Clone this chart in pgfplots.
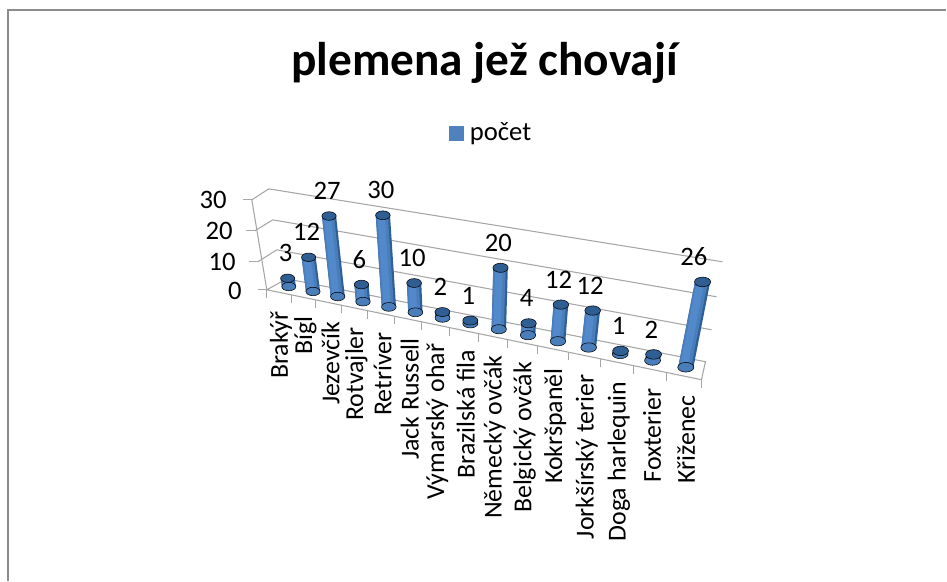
\documentclass[border=0pt]{standalone}
\usepackage{fontspec}
\setmainfont{Carlito}
\usepackage{pgfplots}
\usepackage{pgfplotstable}
\pgfplotsset{compat=1.18}
\definecolor{cylmain}{HTML}{4A7EBB}
\definecolor{cyllight}{HTML}{5289CB}
\definecolor{cyldark}{HTML}{2F5F97}
\definecolor{cylcap}{HTML}{2F5E93}
\definecolor{legblue}{HTML}{4F81BD}
\definecolor{gridg}{HTML}{A6A6A6}
\definecolor{frameg}{HTML}{8C8C8C}
% projection of (u,d,h) on the picture
\pgfmathdeclarefunction{PW}{3}{\pgfmathparse{1-0.172*#1+0.043*#2-0.07*#3}}
\pgfmathdeclarefunction{PX}{3}{\pgfmathparse{(267+314.26*#1+32.34*#2-32.64*#3)/PW(#1,#2,#3)}}
\pgfmathdeclarefunction{PY}{3}{\pgfmathparse{(290+24.64*#1+0.997*#2-104*#3)/PW(#1,#2,#3)}}
\pgfplotstableread{
idx val name
0 3 Brakýř
1 12 Bígl
2 27 Jezevčík
3 6 Rotvajler
4 30 Retríver
5 10 {Jack Russell}
6 2 {Výmarský ohař}
7 1 {Brazilská fila}
8 20 {Německý ovčák}
9 4 {Belgický ovčák}
10 12 Kokršpaněl
11 12 {Jorkšírský terier}
12 1 {Doga harlequin}
13 2 Foxterier
14 26 Křiženec
}\tbl
\pgfplotstableread{
t s
0 0
1 0
2 0
3 0
4 0
5 0
6 0
7 0
8 0
9 0
10 0
11 0
12 0
13 0
14 0
15 0
}\tickt
% one stripe of the cylinders: offset (fraction of the width), width (fraction), colour
\newcommand\Stripe[3]{%
\addplot[forget plot,#3,point meta=\thisrow{idx},
 quiver={u={PX((\thisrow{idx}+0.5)/15,0.5,\thisrow{val}/30)-PX((\thisrow{idx}+0.5)/15,0.5,0)},
         v={PY((\thisrow{idx}+0.5)/15,0.5,\thisrow{val}/30)-PY((\thisrow{idx}+0.5)/15,0.5,0)},
         every arrow/.append style={line width={(#2)*(10.5+1.6*\pgfplotspointmetatransformed/1000)*1pt}}}]
 table[x expr={PX((\thisrow{idx}+0.5)/15,0.5,0)+(#1)*(14+2.2*\thisrow{idx}/14)},
       y expr={PY((\thisrow{idx}+0.5)/15,0.5,0)}] {\tbl};}
% the elliptic ends: height fraction, colour
\newcommand\Cap[2]{%
\pgfplotsinvokeforeach{0,...,14}{%
\addplot[forget plot,only marks,mark=*,mark size={(5.25+0.8*##1/14)*1pt},
 mark options={draw=none,fill=#2,yscale=0.6},
 restrict expr to domain={\thisrow{idx}}{##1:##1}]
 table[x expr={PX((\thisrow{idx}+0.5)/15,0.5,#1*\thisrow{val}/30)},
       y expr={PY((\thisrow{idx}+0.5)/15,0.5,#1*\thisrow{val}/30)}] {\tbl};}}
\begin{document}
\begin{tikzpicture}
\begin{axis}[
 x=0.75pt,y=0.75pt,
 xmin=0,xmax=947,ymin=0,ymax=581,y dir=reverse,
 hide axis,clip=false,scale only axis,
 legend style={at={(axis cs:491.5,133)},anchor=center,draw=none,fill=none,
   font=\fontsize{20}{22}\selectfont,inner sep=0pt,nodes={inner sep=1pt},
   /tikz/every odd column/.append style={column sep=3.75pt}},
 legend cell align=left,
]
\path (axis cs:0,0) rectangle (axis cs:947,581);
\addlegendimage{only marks,mark=square*,mark size=5.2pt,color=legblue}
\addlegendentry{počet}
% chart frame
\addplot[forget plot,frameg,line width=1.1pt] coordinates {(8,581) (8,10) (947,10)};
% walls
\addplot[forget plot,gridg,line width=0.8pt] coordinates {(252,200) (269,189) (723,262)};
\addplot[forget plot,gridg,line width=0.8pt] coordinates {(258,262) (277,250) (712,330)};
\addplot[forget plot,gridg,line width=0.8pt] coordinates {(255,231) (273,220) (717,297)};
\addplot[forget plot,gridg,line width=0.8pt] coordinates {(267,290) (287,279) (706,362) (702,380) (267,290) (252,200)};
% value ticks
\addplot[forget plot,gridg,line width=0.8pt] coordinates {(243,200) (252,200)};
\addplot[forget plot,gridg,line width=0.8pt] coordinates {(246,231) (255,231)};
\addplot[forget plot,gridg,line width=0.8pt] coordinates {(249,262) (258,262)};
\addplot[forget plot,gridg,line width=0.8pt] coordinates {(258,290) (267,290)};
% category ticks
\addplot[forget plot,gridg,line width=0.8pt,quiver={u=0,v=8}]
  table[x expr={PX(\thisrow{t}/15,0,0)},y expr={PY(\thisrow{t}/15,0,0)}] {\tickt};
% cylinders
\Cap{0}{cylmain}
\Stripe{0}{1}{cyldark}
\Stripe{-0.07}{0.84}{cylmain}
\Stripe{-0.12}{0.5}{cyllight}
\Cap{1}{cylcap}
% data labels
\addplot[forget plot,only marks,mark=none,point meta=\thisrow{val},
 nodes near coords,nodes near coords style={font=\fontsize{20}{22}\selectfont,anchor=center,inner sep=0pt,
   /pgf/number format/assume math mode=true}]
 table[x expr={PX((\thisrow{idx}+0.5)/15,0.5,\thisrow{val}/30)-2-10*(\thisrow{val}/30)*((\thisrow{idx}+0.5)/15)^8},
       y expr={PY((\thisrow{idx}+0.5)/15,0.5,\thisrow{val}/30)-25}] {\tbl};
% category labels
\addplot[forget plot,only marks,mark=none,point meta=explicit symbolic,
 nodes near coords,nodes near coords style={font=\fontsize{19.4}{22}\selectfont,rotate=90,anchor=east,inner sep=0pt}]
 table[meta=name,x expr={PX((\thisrow{idx}+0.5)/15,0,0)+2},
       y expr={PY((\thisrow{idx}+0.5)/15,0,0)+19}] {\tbl};
% value axis labels
\node[anchor=east,inner sep=0pt,font=\fontsize{20}{22}\selectfont] at (axis cs:227,200) {30};
\node[anchor=east,inner sep=0pt,font=\fontsize{20}{22}\selectfont] at (axis cs:233,231) {20};
\node[anchor=east,inner sep=0pt,font=\fontsize{20}{22}\selectfont] at (axis cs:236,262) {10};
\node[anchor=east,inner sep=0pt,font=\fontsize{20}{22}\selectfont] at (axis cs:242,291) {0};
% title
\node[anchor=center,inner sep=0pt,font=\fontsize{35.5}{38}\selectfont\bfseries] at (axis cs:485,63) {plemena jež chovají};
\end{axis}
\end{tikzpicture}
\end{document}
